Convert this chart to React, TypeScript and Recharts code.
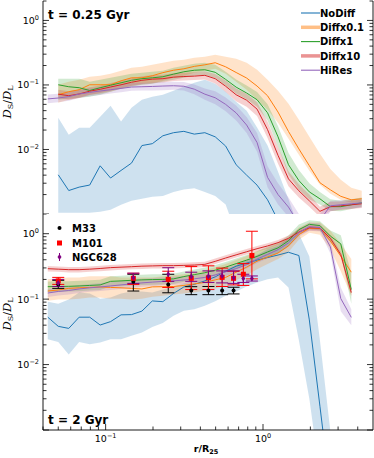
import { ComposedChart, Line, Area, Scatter, ErrorBar, XAxis, YAxis, Legend, Customized } from 'recharts'

const FONT = 'DejaVu Sans'
const INK = '#000'

// radial bins, r / R25
const rBins = [0.0429, 0.05, 0.0583, 0.0679, 0.0792, 0.0923, 0.1075, 0.1253, 0.146, 0.17, 0.198, 0.231, 0.27, 0.314, 0.366, 0.427, 0.497, 0.579, 0.675, 0.787, 0.917, 1.069, 1.246, 1.452, 1.69, 1.97, 2.3, 2.68, 3.12, 3.64, 4.24]

// t = 0.25 Gyr : median and 16-84 band
const upNoDiff = [null, 0.00405, 0.00231, 0.00261, 0.00281, 0.00558, 0.00361, 0.00473, 0.00615, 0.0115, 0.0123, 0.0163, 0.0182, 0.0191, 0.0173, 0.0182, 0.0157, 0.0113, 0.0058, 0.004, 0.0028, 0.00166, 0.0008, 0.0003, null, null, null, null, null, null, null]
const upNoDiffLo = [null, 0.00105, 0.00105, 0.00105, 0.00105, 0.00108, 0.00116, 0.00139, 0.0016, 0.00172, 0.00185, 0.0019, 0.0022, 0.0024, 0.0025, 0.0022, 0.0019, 0.0014, 0.0005, 0.0005, 0.0005, 0.0005, 0.0005, 0.0005, 0.0005, null, null, null, null, null, null]
const upNoDiffHi = [null, 0.031, 0.0169, 0.0217, 0.0217, 0.0321, 0.0476, 0.0272, 0.0443, 0.059, 0.0657, 0.0705, 0.0813, 0.0938, 0.108, 0.12, 0.104, 0.0785, 0.055, 0.04, 0.022, 0.0115, 0.0045, 0.0017, 0.0006, null, null, null, null, null, null]

const upD01 = [null, 0.0705, 0.0785, 0.0843, 0.1007, 0.1007, 0.1007, 0.116, 0.129, 0.129, 0.139, 0.155, 0.169, 0.178, 0.194, 0.205, 0.221, 0.191, 0.156, 0.128, 0.096, 0.068, 0.038, 0.019, 0.0102, 0.0056, 0.00305, 0.00237, 0.00188, 0.00166, 0.00172]
const upD01Lo = [null, 0.053, 0.059, 0.0634, 0.0705, 0.0731, 0.0785, 0.0873, 0.0972, 0.1007, 0.104, 0.116, 0.129, 0.139, 0.155, 0.166, 0.178, 0.149, 0.112, 0.0843, 0.059, 0.0413, 0.0259, 0.0147, 0.00828, 0.00468, 0.00284, 0.00206, 0.00166, 0.00149, 0.00149]
const upD01Hi = [null, 0.1007, 0.112, 0.12, 0.134, 0.139, 0.149, 0.166, 0.185, 0.191, 0.206, 0.221, 0.237, 0.246, 0.264, 0.274, 0.294, 0.274, 0.255, 0.221, 0.172, 0.12, 0.0813, 0.0512, 0.0289, 0.0157, 0.00857, 0.005, 0.00339, 0.00255, 0.00229]

const upD1 = [null, 0.1007, 0.0938, 0.0906, 0.082, 0.0906, 0.099, 0.108, 0.118, 0.125, 0.129, 0.134, 0.147, 0.16, 0.169, 0.172, 0.157, 0.122, 0.0925, 0.075, 0.059, 0.037, 0.0157, 0.0058, 0.0033, 0.0022, 0.00172, 0.0013, 0.0013, 0.00139, 0.00149]
const upD1Lo = [null, 0.059, 0.0611, 0.0634, 0.0657, 0.0705, 0.0785, 0.0873, 0.0938, 0.1007, 0.104, 0.112, 0.12, 0.129, 0.139, 0.144, 0.128, 0.098, 0.074, 0.06, 0.046, 0.028, 0.011, 0.0041, 0.0024, 0.0017, 0.0014, 0.00112, 0.0011, 0.0012, 0.0013]
const upD1Hi = [null, 0.125, 0.125, 0.125, 0.112, 0.12, 0.129, 0.139, 0.149, 0.155, 0.16, 0.166, 0.185, 0.198, 0.213, 0.221, 0.205, 0.16, 0.122, 0.098, 0.078, 0.05, 0.023, 0.0088, 0.0048, 0.003, 0.0022, 0.0017, 0.0016, 0.0017, 0.0018]

const upD10 = [null, 0.072, 0.0681, 0.0725, 0.08, 0.0857, 0.093, 0.1007, 0.11, 0.118, 0.123, 0.125, 0.132, 0.135, 0.137, 0.141, 0.125, 0.0955, 0.0705, 0.058, 0.0422, 0.0203, 0.0081, 0.0035, 0.00229, 0.0016, 0.0011, 0.0013, 0.00134, 0.00139, 0.00144]
const upD10Lo = [null, 0.062, 0.059, 0.063, 0.07, 0.075, 0.081, 0.088, 0.096, 0.103, 0.107, 0.109, 0.115, 0.117, 0.119, 0.122, 0.105, 0.078, 0.056, 0.046, 0.033, 0.015, 0.006, 0.0027, 0.0018, 0.0013, 0.0009, 0.0011, 0.00115, 0.0012, 0.00124]
const upD10Hi = [null, 0.084, 0.08, 0.085, 0.092, 0.098, 0.107, 0.116, 0.127, 0.136, 0.141, 0.144, 0.152, 0.155, 0.158, 0.163, 0.148, 0.117, 0.088, 0.073, 0.054, 0.027, 0.011, 0.0046, 0.0029, 0.002, 0.0013, 0.00155, 0.00156, 0.0016, 0.00167]

const upHiRes = [0.0608, 0.0627, 0.066, 0.0724, 0.0767, 0.0806, 0.0843, 0.0884, 0.0928, 0.0938, 0.0948, 0.0962, 0.0972, 0.0955, 0.086, 0.072, 0.0633, 0.05, 0.0369, 0.0239, 0.0128, 0.0037, 0.002, 0.00128, 0.0007, 0.0006, 0.0008, 0.00134, 0.00139, 0.00144, 0.00149]
const upHiResLo = [0.052, 0.054, 0.057, 0.063, 0.067, 0.07, 0.074, 0.077, 0.081, 0.082, 0.082, 0.083, 0.084, 0.082, 0.072, 0.059, 0.05, 0.039, 0.028, 0.018, 0.0092, 0.0026, 0.0014, 0.0009, 0.0005, 0.00045, 0.0006, 0.0011, 0.00118, 0.00122, 0.00126]
const upHiResHi = [0.071, 0.073, 0.077, 0.084, 0.088, 0.093, 0.097, 0.102, 0.107, 0.108, 0.109, 0.111, 0.112, 0.111, 0.102, 0.088, 0.08, 0.064, 0.048, 0.032, 0.018, 0.0055, 0.003, 0.0018, 0.001, 0.0008, 0.001, 0.0016, 0.00163, 0.0017, 0.00176]

// t = 2 Gyr
const loNoDiff = [0.053, 0.0384, 0.0357, 0.053, 0.053, 0.0402, 0.0453, 0.0575, 0.058, 0.0656, 0.0938, 0.0915, 0.122, 0.1535, 0.168, 0.19, 0.219, 0.267, 0.319, 0.355, 0.395, 0.432, 0.472, 0.52, 0.464, 0.0481, 0.00231, 0.000112, null, null, null]
const loNoDiffLo = [0.0244, 0.0222, 0.0143, 0.0222, 0.0204, 0.0217, 0.0244, 0.0244, 0.0275, 0.031, 0.0375, 0.0432, 0.0555, 0.0663, 0.07, 0.0793, 0.093, 0.113, 0.131, 0.156, 0.18, 0.2006, 0.215, 0.151, 0.0236, 0.003, 0.0002, 0.0001, null, null, null]
const loNoDiffHi = [0.0915, 0.0852, 0.0983, 0.126, 0.122, 0.1018, 0.1055, 0.122, 0.131, 0.131, 0.126, 0.14, 0.156, 0.174, 0.194, 0.215, 0.24, 0.277, 0.331, 0.395, 0.472, 0.585, 0.652, 0.837, 1.0, 0.45, 0.0236, 0.00095, null, null, null]

const loD01 = [0.133, 0.138, 0.146, 0.149, 0.151, 0.1535, 0.151, 0.149, 0.146, 0.143, 0.154, 0.155, 0.156, 0.162, 0.171, 0.18, 0.197, 0.215, 0.258, 0.308, 0.38, 0.44, 0.507, 0.652, 0.965, 1.22, 1.195, 0.771, 0.456, 0.258, null]
const loD01Lo = [0.0948, 0.0983, 0.0983, 0.1018, 0.1055, 0.1055, 0.1018, 0.1018, 0.0983, 0.1018, 0.109, 0.113, 0.1174, 0.122, 0.126, 0.1355, 0.146, 0.162, 0.194, 0.231, 0.287, 0.343, 0.41, 0.526, 0.807, 1.036, 0.965, 0.585, 0.267, 0.113, null]
const loD01Hi = [0.2006, 0.208, 0.215, 0.215, 0.223, 0.223, 0.223, 0.215, 0.215, 0.215, 0.215, 0.223, 0.231, 0.24, 0.258, 0.277, 0.308, 0.343, 0.395, 0.456, 0.545, 0.607, 0.7, 0.867, 1.24, 1.48, 1.48, 1.113, 0.7, 0.41, null]

const loD1 = [0.155, 0.156, 0.157, 0.159, 0.162, 0.165, 0.187, 0.19, 0.194, 0.197, 0.199, 0.2, 0.204, 0.221, 0.237, 0.253, 0.277, 0.308, 0.349, 0.395, 0.45, 0.526, 0.607, 0.779, 1.153, 1.39, 1.33, 0.92, 0.7, 0.14, null]
const loD1Lo = [0.129, 0.13, 0.131, 0.1325, 0.135, 0.1375, 0.156, 0.158, 0.162, 0.164, 0.166, 0.167, 0.17, 0.184, 0.197, 0.211, 0.231, 0.257, 0.291, 0.329, 0.375, 0.438, 0.506, 0.649, 0.96, 1.18, 1.12, 0.75, 0.5, 0.085, null]
const loD1Hi = [0.186, 0.187, 0.188, 0.191, 0.194, 0.198, 0.224, 0.228, 0.233, 0.236, 0.239, 0.24, 0.245, 0.265, 0.284, 0.304, 0.332, 0.37, 0.419, 0.474, 0.54, 0.631, 0.728, 0.935, 1.38, 1.6, 1.55, 1.12, 0.95, 0.25, null]

const loD10 = [0.292, 0.287, 0.282, 0.282, 0.287, 0.294, 0.303, 0.308, 0.313, 0.319, 0.322, 0.325, 0.325, 0.328, 0.332, 0.34, 0.378, 0.425, 0.475, 0.53, 0.59, 0.65, 0.73, 0.85, 1.06, 1.23, 1.22, 0.85, 0.48, 0.126, null]
const loD10Lo = [0.265, 0.261, 0.256, 0.256, 0.261, 0.267, 0.275, 0.28, 0.285, 0.29, 0.293, 0.295, 0.295, 0.298, 0.302, 0.309, 0.344, 0.386, 0.432, 0.482, 0.536, 0.591, 0.664, 0.773, 0.964, 1.12, 1.11, 0.773, 0.436, 0.112, null]
const loD10Hi = [0.321, 0.316, 0.31, 0.31, 0.316, 0.323, 0.333, 0.339, 0.344, 0.351, 0.354, 0.358, 0.358, 0.361, 0.365, 0.374, 0.416, 0.468, 0.523, 0.583, 0.649, 0.715, 0.803, 0.935, 1.17, 1.35, 1.34, 0.935, 0.528, 0.14, null]

const loHiRes = [0.124, 0.131, 0.1355, 0.143, 0.149, 0.1535, 0.159, 0.165, 0.171, 0.177, 0.182, 0.187, 0.19, 0.196, 0.204, 0.215, 0.234, 0.262, 0.292, 0.337, 0.41, 0.481, 0.571, 0.725, 1.036, 1.28, 1.24, 0.63, 0.102, 0.0526, null]
const loHiResLo = [0.108, 0.114, 0.118, 0.124, 0.13, 0.133, 0.138, 0.143, 0.149, 0.154, 0.158, 0.163, 0.165, 0.17, 0.177, 0.187, 0.203, 0.228, 0.254, 0.293, 0.357, 0.418, 0.497, 0.63, 0.9, 1.11, 1.08, 0.5, 0.065, 0.04, null]
const loHiResHi = [0.143, 0.151, 0.156, 0.164, 0.171, 0.177, 0.183, 0.19, 0.197, 0.204, 0.209, 0.215, 0.219, 0.225, 0.235, 0.247, 0.269, 0.301, 0.336, 0.388, 0.472, 0.553, 0.657, 0.834, 1.19, 1.47, 1.43, 0.8, 0.15, 0.07, null]

// observed galaxies
const obsR = [0.05, 0.15, 0.25, 0.35, 0.45, 0.55, 0.65, 0.75, 0.85]
const m33 = [0.168, 0.184, 0.168, 0.1355, 0.1355, 0.1355, 0.1355]
const m33Lo = [0.146, 0.133, 0.125, 0.117, 0.117, 0.117, 0.12]
const m33Hi = [0.194, 0.24, 0.24, 0.155, 0.156, 0.156, 0.152]
const m101 = [0.19, 0.208, 0.2006, 0.208, 0.212, 0.215, 0.208, 0.24, 0.464]
const m101Lo = [0.168, 0.168, 0.151, 0.14, 0.14, 0.156, 0.165, 0.162, 0.204]
const m101Hi = [0.215, 0.249, 0.267, 0.316, 0.323, 0.298, 0.267, 0.349, 1.09]
const ngc628 = [0.177, 0.212, 0.24, 0.221, 0.223, 0.226, 0.213, 0.206, 0.206]
const ngc628Lo = [0.156, 0.174, 0.187, 0.187, 0.18, 0.177, 0.174, 0.18, 0.189]
const ngc628Hi = [0.2, 0.249, 0.302, 0.258, 0.27, 0.27, 0.27, 0.24, 0.226]

// ticks
const xMajor = [0.1, 1]
const xTicks = [0.04, 0.05, 0.06, 0.07, 0.08, 0.09, 0.1, 0.2, 0.3, 0.4, 0.5, 0.6, 0.7, 0.8, 0.9, 1, 2, 3, 4]
const yMajor = [0.001, 0.01, 0.1, 1]
const yLabelled = [0.01, 0.1, 1]
const yTicks = [0.001, 0.002, 0.003, 0.004, 0.005, 0.006, 0.007, 0.008, 0.009, 0.01, 0.02, 0.03, 0.04, 0.05, 0.06, 0.07, 0.08, 0.09, 0.1, 0.2, 0.3, 0.4, 0.5, 0.6, 0.7, 0.8, 0.9, 1, 2]

const series = [
  { key: 'noDiff', name: 'NoDiff', color: '#1f77b4', thick: false },
  { key: 'd01', name: 'Diffx0.1', color: '#ff7f0e', thick: true },
  { key: 'd1', name: 'Diffx1', color: '#2ca02c', thick: false },
  { key: 'd10', name: 'Diffx10', color: '#d62728', thick: true },
  { key: 'hiRes', name: 'HiRes', color: '#9467bd', thick: false },
]

type Arr = (number | null)[]
function buildRows(src: Record<string, [Arr, Arr, Arr]>) {
  return rBins.map((x, i) => {
    const row: any = { x }
    for (const k in src) {
      const [line, lo, hi] = src[k]
      row[k] = line[i]
      row[k + 'Band'] = lo[i] == null || hi[i] == null ? null : [lo[i], hi[i]]
    }
    return row
  })
}

const upperRows = buildRows({
  noDiff: [upNoDiff, upNoDiffLo, upNoDiffHi],
  d01: [upD01, upD01Lo, upD01Hi],
  d1: [upD1, upD1Lo, upD1Hi],
  d10: [upD10, upD10Lo, upD10Hi],
  hiRes: [upHiRes, upHiResLo, upHiResHi],
})
const lowerRows = buildRows({
  noDiff: [loNoDiff, loNoDiffLo, loNoDiffHi],
  d01: [loD01, loD01Lo, loD01Hi],
  d1: [loD1, loD1Lo, loD1Hi],
  d10: [loD10, loD10Lo, loD10Hi],
  hiRes: [loHiRes, loHiResLo, loHiResHi],
})

const obsRows = (v: number[], lo: number[], hi: number[]) =>
  v.map((y, i) => ({ x: obsR[i], y, err: [y - lo[i], hi[i] - y] }))

function Pow({ x, y, v, anchor }: { x: number; y: number; v: number; anchor: string }) {
  const e = Math.round(Math.log10(v))
  return (
    <text x={x} y={y} textAnchor={anchor} fontSize={9.5} fill={INK} fontFamily={FONT}>
      10
      <tspan dy={-4} fontSize={6.5}>{e < 0 ? '\u2212' + -e : String(e)}</tspan>
    </text>
  )
}

function XTick(p: any) {
  const v = p.payload.value
  const major = xMajor.includes(v)
  const len = major ? 6 : 3.5
  return (
    <g>
      <line x1={p.x} x2={p.x} y1={p.y} y2={p.y + p.dir * len} stroke={INK} strokeWidth={0.8} />
      {p.labels && major && <Pow x={p.x} y={p.y + 12} v={v} anchor="middle" />}
    </g>
  )
}

function YTick(p: any) {
  const v = p.payload.value
  const major = yMajor.includes(v)
  const len = major ? 6 : 3.5
  return (
    <g>
      <line x1={p.x} x2={p.x + p.dir * len} y1={p.y} y2={p.y} stroke={INK} strokeWidth={0.8} />
      {p.labels && yLabelled.includes(v) && <Pow x={p.x - 4} y={p.y + 3.5} v={v} anchor="end" />}
    </g>
  )
}

const axisLine = { stroke: INK, strokeWidth: 0.9 }

function frame(labels: boolean) {
  const common = { type: 'number' as const, scale: 'log' as const, allowDataOverflow: true, interval: 0 as const, tickSize: 0, tickMargin: 0, tickLine: false, axisLine }
  return [
    <XAxis key="xb" {...common} dataKey="x" domain={[0.04, 5]} ticks={xTicks} height={labels ? 28 : 0}
      tick={(p: any) => <XTick {...p} dir={-1} labels={labels} />} />,
    <XAxis key="xt" {...common} xAxisId="top" orientation="top" domain={[0.04, 5]} ticks={xTicks} height={0}
      tick={(p: any) => <XTick {...p} dir={1} />} />,
    <YAxis key="yl" {...common} domain={[0.001, 2]} ticks={yTicks} width={43}
      tick={(p: any) => <YTick {...p} dir={1} labels />} />,
    <YAxis key="yr" {...common} yAxisId="r" orientation="right" domain={[0.001, 2]} ticks={yTicks} width={1}
      tick={(p: any) => <YTick {...p} dir={-1} />} />,
  ]
}

function curves() {
  return [
    ...series.map((s) => (
      <Area key={s.key + 'Band'} dataKey={s.key + 'Band'} type="linear" stroke="none" fill={s.color}
        fillOpacity={0.22} activeDot={false} isAnimationActive={false} />
    )),
    ...series.map((s) => (
      <Line key={s.key} dataKey={s.key} type="linear" stroke={s.color} strokeWidth={1} dot={false}
        activeDot={false} isAnimationActive={false} />
    )),
  ]
}

function YLabel({ cy }: { cy: number }) {
  return (
    <text transform={`translate(11,${cy}) rotate(-90)`} textAnchor="middle" fontSize={11.5} fill={INK} fontFamily="DejaVu Serif">
      <tspan fontStyle="italic">D</tspan>
      <tspan fontSize={8} dy={2}>S</tspan>
      <tspan dy={-2}>/</tspan>
      <tspan fontStyle="italic">D</tspan>
      <tspan fontSize={8} dy={2}>L</tspan>
    </text>
  )
}

const UpperText = () => (
  <g>
    <text x={48} y={18.5} fontSize={12} fontWeight="bold" fontFamily={FONT} fill={INK}>t = 0.25 Gyr</text>
    <YLabel cy={102} />
  </g>
)

const LowerText = () => (
  <g>
    <text x={48} y={210} fontSize={12} fontWeight="bold" fontFamily={FONT} fill={INK}>t = 2 Gyr</text>
    <YLabel cy={100} />
    <text x={206} y={238} textAnchor="middle" fontSize={9.5} fontWeight="bold" fontFamily={FONT} fill={INK}>
      r/R<tspan fontSize={6.5} dy={2}>25</tspan>
    </text>
  </g>
)

const SimLegend = () => (
  <svg width={74} height={72}>
    {series.map((s, i) => {
      const y = 8 + i * 14.3
      return (
        <g key={s.key}>
          {s.thick ? (
            <line x1={1} x2={20} y1={y} y2={y} stroke={s.color} strokeOpacity={0.5} strokeWidth={3.5} />
          ) : (
            <line x1={1} x2={20} y1={y} y2={y} stroke={s.color} strokeWidth={1.1} />
          )}
          <text x={20} y={y + 3.6} fontSize={10} fontWeight="bold" fontFamily={FONT} fill={INK}>{s.name}</text>
        </g>
      )
    })}
  </svg>
)

const ObsLegend = () => (
  <svg width={70} height={45}>
    <circle cx={7.5} cy={8} r={2} fill="#000" />
    <text x={20} y={11.6} fontSize={10} fontWeight="bold" fontFamily={FONT} fill={INK}>M33</text>
    <rect x={5} y={20.5} width={5} height={5} fill="#ff0000" />
    <text x={20} y={26.6} fontSize={10} fontWeight="bold" fontFamily={FONT} fill={INK}>M101</text>
    <line x1={7.5} x2={7.5} y1={33} y2={41} stroke="#800080" strokeWidth={1} />
    <path d="M7.5,34 L9.5,37 L7.5,40 L5.5,37 Z" fill="#800080" />
    <text x={20} y={40.6} fontSize={10} fontWeight="bold" fontFamily={FONT} fill={INK}>NGC628</text>
  </svg>
)

const dotShape = (p: any) => <circle cx={p.cx} cy={p.cy} r={2} fill="#000" />
const squareShape = (p: any) => <rect x={p.cx - 2.5} y={p.cy - 2.5} width={5} height={5} fill="#ff0000" />
const diamondShape = (p: any) => (
  <path d={`M${p.cx},${p.cy - 3} L${p.cx + 2},${p.cy} L${p.cx},${p.cy + 3} L${p.cx - 2},${p.cy} Z`} fill="#800080" />
)

export default function App() {
  return (
    <div style={{ position: 'absolute', left: 0, top: 0, width: 374, height: 458, background: '#fff', fontFamily: FONT }}>
      <div style={{ position: 'absolute', left: 0, top: 0 }}>
        <ComposedChart width={374} height={214} data={upperRows} margin={{ top: 1, right: 0, bottom: 0, left: 0 }}>
          {frame(false)}
          {curves()}
          <Customized component={UpperText} />
          <Legend layout="horizontal" verticalAlign="middle" align="center" content={() => <SimLegend />}
            wrapperStyle={{ top: 5, left: 300, width: 74, height: 72 }} />
        </ComposedChart>
      </div>
      <div style={{ position: 'absolute', left: 0, top: 214 }}>
        <ComposedChart width={374} height={244} data={lowerRows} margin={{ top: 0, right: 0, bottom: 0, left: 0 }}>
          {frame(true)}
          {curves()}
          <Scatter data={obsRows(m33, m33Lo, m33Hi)} dataKey="y" shape={dotShape} isAnimationActive={false}>
            <ErrorBar dataKey="err" direction="y" width={6} stroke="#000" strokeWidth={1} />
          </Scatter>
          <Scatter data={obsRows(m101, m101Lo, m101Hi)} dataKey="y" shape={squareShape} isAnimationActive={false}>
            <ErrorBar dataKey="err" direction="y" width={6} stroke="#ff0000" strokeWidth={1} />
          </Scatter>
          <Scatter data={obsRows(ngc628, ngc628Lo, ngc628Hi)} dataKey="y" shape={diamondShape} isAnimationActive={false}>
            <ErrorBar dataKey="err" direction="y" width={6} stroke="#800080" strokeWidth={1} />
          </Scatter>
          <Customized component={LowerText} />
          <Legend layout="horizontal" verticalAlign="middle" align="center" content={() => <ObsLegend />}
            wrapperStyle={{ top: 6, left: 52, width: 70, height: 45 }} />
        </ComposedChart>
      </div>
    </div>
  )
}
